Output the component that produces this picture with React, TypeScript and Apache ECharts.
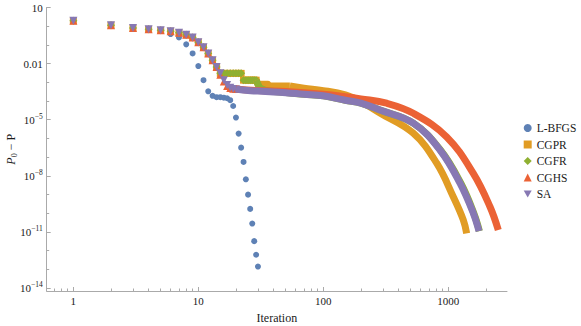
import React, { useEffect, useRef } from 'react';
import * as echarts from 'echarts';

const FONT = '"Liberation Serif", "DejaVu Serif", serif';
const AXIS_COLOR = '#aaaaaa';
const TEXT_COLOR = '#1a1a1a';

const NAMES = ['L-BFGS', 'CGPR', 'CGFR', 'CGHS', 'SA'];
const COLORS = ['#5E81B5', '#E19C24', '#8FB032', '#EB6235', '#8778B3'];

// axis ranges / ticks
const X_MIN = 0.612;
const X_MAX = 2950;
const Y_MIN = 6.9e-15;
const Y_MAX = 10;
const X_MAJOR = [1, 10, 100, 1000];
const X_MINOR = [0.7, 0.8, 0.9, 2, 3, 4, 5, 6, 7, 8, 9, 20, 30, 40, 50, 60, 70, 80, 90, 200, 300, 400, 500, 600, 700, 800, 900, 2000];
const Y_MAJOR = [1e-14, 1e-11, 1e-8, 1e-5, 0.01, 10];
const Y_MINOR = [1e-13, 1e-12, 1e-10, 1e-9, 1e-7, 1e-6, 1e-4, 1e-3, 0.1, 1];

// L-BFGS
const LBFGS_ITER = [1, 2, 3, 4, 5, 6, 7, 8, 9, 10, 11, 12, 13, 14, 15, 16, 17, 18, 19, 20, 21, 22, 23, 24, 25, 26, 27, 28, 29, 30];
const LBFGS_VAL = [1.95, 1.12, 0.79, 0.68, 0.56, 0.38, 0.25, 0.107, 0.035, 7.4e-3, 1.3e-3, 3.3e-4, 1.9e-4, 1.6e-4, 1.6e-4, 1.5e-4, 1.4e-4, 1.1e-4, 5.4e-5, 1.3e-5, 1.8e-6, 3.2e-7, 5.5e-8, 6.5e-9, 9.8e-10, 1.7e-10, 2.8e-11, 3.2e-12, 6.0e-13, 1.4e-13];

// CGPR / CGFR discrete markers (iterations 1..29)
const CG_ITER = [1, 2, 3, 4, 5, 6, 7, 8, 9, 10, 11, 12, 13, 14, 15, 16, 17, 18, 19, 20, 21, 22, 23, 24, 25, 26, 27, 28, 29];
const CGPR_VAL = [1.95, 1.12, 0.79, 0.68, 0.6, 0.54, 0.45, 0.35, 0.25, 0.14, 0.074, 0.035, 0.015, 6.6e-3, 3.0e-3, 3.0e-3, 3.0e-3, 3.0e-3, 3.0e-3, 3.0e-3, 3.0e-3, 3.0e-3, 1.3e-3, 1.3e-3, 1.3e-3, 1.3e-3, 1.3e-3, 1.3e-3, 1.3e-3];
const CGFR_VAL = [1.95, 1.12, 0.79, 0.68, 0.6, 0.54, 0.45, 0.35, 0.25, 0.14, 0.074, 0.035, 0.015, 6.6e-3, 3.0e-3, 3.0e-3, 3.0e-3, 3.0e-3, 3.0e-3, 3.0e-3, 3.0e-3, 3.0e-3, 1.3e-3, 1.3e-3, 1.3e-3, 1.3e-3, 1.3e-3, 1.3e-3, 1.3e-3];

// CGHS / SA discrete markers (iterations 1..20)
const EARLY_ITER = [1, 2, 3, 4, 5, 6, 7, 8, 9, 10, 11, 12, 13, 14, 15, 16, 17, 18, 19, 20];
const CGHS_VAL = [1.95, 1.12, 0.79, 0.68, 0.6, 0.54, 0.45, 0.35, 0.25, 0.14, 0.074, 0.035, 0.015, 6.6e-3, 2.5e-3, 1.1e-3, 6.3e-4, 5.0e-4, 4.5e-4, 4.4e-4];
const SA_VAL = [1.95, 1.12, 0.79, 0.68, 0.6, 0.54, 0.45, 0.35, 0.25, 0.14, 0.074, 0.035, 0.015, 6.6e-3, 3.0e-3, 1.3e-3, 7.2e-4, 5.1e-4, 4.4e-4, 4.3e-4];

// step plateaus (markers overlapping)
const CGPR_STEP_ITER = [29, 30, 36, 37, 54];
const CGPR_STEP_VAL = [1.3e-3, 7.8e-4, 7.8e-4, 6.3e-4, 6.3e-4];
const CGFR_STEP_ITER = [29, 31, 35];
const CGFR_STEP_VAL = [1.3e-3, 5e-4, 3.5e-4];

// dense tails (markers merge into bands)
const CGPR_TAIL_ITER = [54, 70, 100, 150, 200, 284, 525, 808, 1096, 1318, 1403];
const CGPR_TAIL_VAL = [6.3e-4, 4.8e-4, 3.6e-4, 2.1e-4, 9.3e-5, 2.3e-5, 1.9e-6, 4.7e-8, 7.6e-10, 4.4e-11, 8.3e-12];
const CGFR_TAIL_ITER = [35, 50, 70, 100, 150, 200, 284, 525, 865, 1260, 1600, 1775];
const CGFR_TAIL_VAL = [3.5e-4, 2.8e-4, 2.3e-4, 1.9e-4, 1.1e-4, 7.8e-5, 3.3e-5, 6.5e-6, 2.4e-7, 4.0e-9, 1.0e-10, 1.1e-11];
const CGHS_TAIL_ITER = [20, 30, 50, 100, 150, 200, 321, 525, 971, 1585, 2157, 2512];
const CGHS_TAIL_VAL = [4.4e-4, 3.6e-4, 3.2e-4, 2.3e-4, 1.7e-4, 1.3e-4, 7.6e-5, 2.2e-5, 1.2e-6, 1.35e-8, 2.2e-10, 1.26e-11];
const SA_TAIL_ITER = [20, 25, 30, 40, 50, 70, 100, 150, 200, 284, 525, 858, 1241, 1585, 1761];
const SA_TAIL_VAL = [4.3e-4, 3.6e-4, 3.4e-4, 3.0e-4, 2.8e-4, 2.3e-4, 1.9e-4, 1.1e-4, 7.8e-5, 3.3e-5, 6.5e-6, 2.4e-7, 4.0e-9, 1.0e-10, 1.1e-11];

const zip = (xs: number[], ys: number[]) => xs.map((x, i) => [x, ys[i]]);

const INV_TRIANGLE = 'path://M0,0L10,0L5,9Z';

function scatter(name: string, color: string, symbol: string, size: number, xs: number[], ys: number[]) {
  return {
    type: 'scatter', name, symbol, symbolSize: size,
    itemStyle: { color, opacity: 1 },
    data: zip(xs, ys),
    xAxisIndex: 0, yAxisIndex: 0,
  };
}
function band(name: string, color: string, xs: number[], ys: number[], smooth: number | boolean) {
  return {
    type: 'line', name, symbol: 'none', showSymbol: false, smooth,
    lineStyle: { color, width: 7, cap: 'butt', join: 'round' },
    itemStyle: { color },
    data: zip(xs, ys),
    xAxisIndex: 0, yAxisIndex: 0,
  };
}

const yLabel = (v: number) => {
  const e = Math.round(Math.log10(v));
  if (e === 1) return '10';
  if (e === -2) return '0.01';
  return '10{sup|\u2212' + Math.abs(e) + '}';
};

export default function App() {
  const ref = useRef<HTMLDivElement>(null);
  useEffect(() => {
    const chart = echarts.init(ref.current!, null, { renderer: 'svg' });
    const tickStyle = { color: AXIS_COLOR, width: 1 };
    const option: any = {
      animation: false,
      grid: { left: 46.7, right: 74, top: 7.5, bottom: 35, containLabel: false, outerBoundsMode: 'none' },
      legend: {
        orient: 'vertical', left: 518.7, top: 117,
        itemWidth: 8, itemHeight: 8, itemGap: 4.5,
        textStyle: { fontFamily: FONT, fontSize: 11.5, color: TEXT_COLOR },
        data: [
          { name: NAMES[0], icon: 'circle' },
          { name: NAMES[1], icon: 'rect' },
          { name: NAMES[2], icon: 'diamond' },
          { name: NAMES[3], icon: 'triangle' },
          { name: NAMES[4], icon: INV_TRIANGLE },
        ],
        selectedMode: false,
      },
      xAxis: [
        {
          type: 'log', min: X_MIN, max: X_MAX, position: 'bottom',
          axisLine: { show: true, lineStyle: { color: AXIS_COLOR } },
          axisTick: { show: true, inside: true, length: 4, customValues: X_MAJOR, lineStyle: tickStyle },
          axisLabel: { customValues: X_MAJOR, formatter: (v: number) => String(Math.round(v)), fontFamily: FONT, fontSize: 11, color: TEXT_COLOR, margin: 4 },
          splitLine: { show: false }, minorTick: { show: false },
          name: 'Iteration', nameLocation: 'middle', nameGap: 21, nameMoveOverlap: false,
          nameTextStyle: { fontFamily: FONT, fontSize: 12, color: TEXT_COLOR },
        },
        {
          type: 'log', min: X_MIN, max: X_MAX, position: 'bottom',
          axisLine: { show: false },
          axisTick: { show: true, inside: true, length: 2.5, customValues: X_MINOR, lineStyle: tickStyle },
          axisLabel: { show: false },
          splitLine: { show: false },
        },
      ],
      yAxis: [
        {
          type: 'log', min: Y_MIN, max: Y_MAX, position: 'left',
          axisLine: { show: true, lineStyle: { color: AXIS_COLOR } },
          axisTick: { show: true, inside: true, length: 4, customValues: Y_MAJOR, lineStyle: tickStyle },
          axisLabel: {
            customValues: Y_MAJOR, formatter: yLabel, fontFamily: FONT, fontSize: 11, lineHeight: 14, color: TEXT_COLOR, margin: 4,
            rich: { sup: { fontFamily: FONT, fontSize: 7.5, lineHeight: 8, verticalAlign: 'top', color: TEXT_COLOR } },
          },
          splitLine: { show: false },
          name: '{i|P}{s|0}{n| \u2212 P}', nameLocation: 'middle', nameGap: 28, nameRotate: 90, nameMoveOverlap: false,
          nameTextStyle: {
            fontFamily: FONT, fontSize: 12, color: TEXT_COLOR,
            rich: {
              i: { fontFamily: FONT, fontSize: 12, fontStyle: 'italic', lineHeight: 16, color: TEXT_COLOR },
              s: { fontFamily: FONT, fontSize: 8, lineHeight: 8, verticalAlign: 'bottom', color: TEXT_COLOR },
              n: { fontFamily: FONT, fontSize: 12, lineHeight: 16, color: TEXT_COLOR },
            },
          },
        },
        {
          type: 'log', min: Y_MIN, max: Y_MAX, position: 'left',
          axisLine: { show: false },
          axisTick: { show: true, inside: true, length: 2.5, customValues: Y_MINOR, lineStyle: tickStyle },
          axisLabel: { show: false },
          splitLine: { show: false },
        },
      ],
      series: [
        scatter(NAMES[0], COLORS[0], 'circle', 6, LBFGS_ITER, LBFGS_VAL),
        scatter(NAMES[1], COLORS[1], 'rect', 7, CG_ITER, CGPR_VAL),
        band(NAMES[1], COLORS[1], CGPR_STEP_ITER, CGPR_STEP_VAL, false),
        band(NAMES[1], COLORS[1], CGPR_TAIL_ITER, CGPR_TAIL_VAL, 0.4),
        scatter(NAMES[2], COLORS[2], 'diamond', 8, CG_ITER, CGFR_VAL),
        band(NAMES[2], COLORS[2], CGFR_STEP_ITER, CGFR_STEP_VAL, false),
        band(NAMES[2], COLORS[2], CGFR_TAIL_ITER, CGFR_TAIL_VAL, 0.4),
        scatter(NAMES[3], COLORS[3], 'triangle', 8, EARLY_ITER, CGHS_VAL),
        band(NAMES[3], COLORS[3], CGHS_TAIL_ITER, CGHS_TAIL_VAL, 0.4),
        scatter(NAMES[4], COLORS[4], INV_TRIANGLE, 8, EARLY_ITER, SA_VAL),
        band(NAMES[4], COLORS[4], SA_TAIL_ITER, SA_TAIL_VAL, 0.4),
      ],
    };
    chart.setOption(option);
    return () => chart.dispose();
  }, []);
  return <div ref={ref} style={{ position: 'absolute', left: 0, top: 0, width: 581, height: 326 }} />;
}
